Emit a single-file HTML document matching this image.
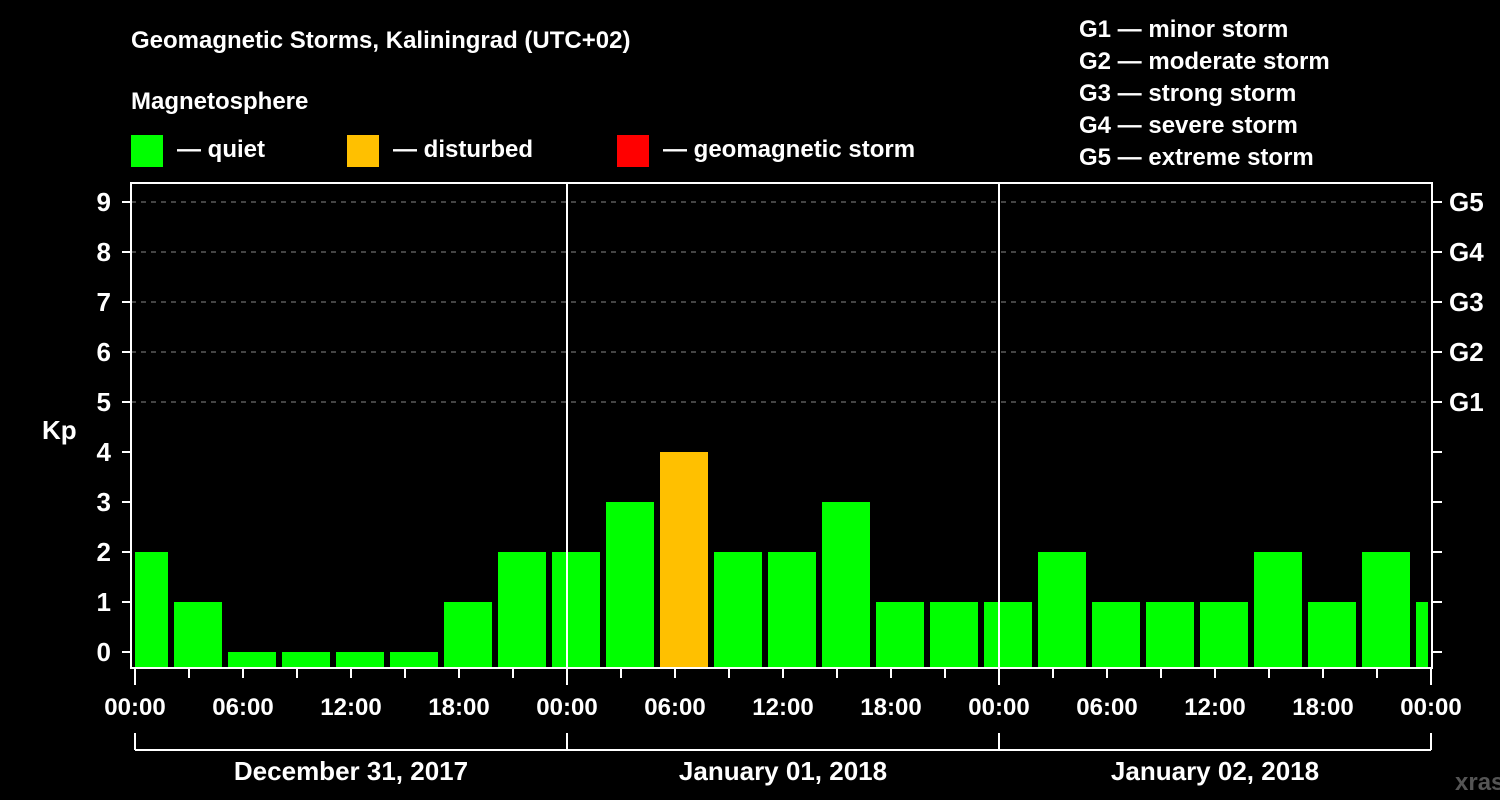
<!DOCTYPE html>
<html><head><meta charset="utf-8"><style>
html,body{margin:0;padding:0;background:#000;}
svg{display:block;font-family:"Liberation Sans",Arial,sans-serif;font-weight:bold;}
</style></head><body>
<svg id="c" width="1500" height="800" viewBox="0 0 1500 800">
<text x="131" y="48" fill="#fff" font-size="24">Geomagnetic Storms, Kaliningrad (UTC+02)</text>
<text x="131" y="109" fill="#fff" font-size="24">Magnetosphere</text>
<g><rect x="131" y="135" width="32" height="32" fill="#00ff00"/><text x="177" y="157" fill="#fff" font-size="24">— quiet</text></g>
<g><rect x="347" y="135" width="32" height="32" fill="#ffc000"/><text x="393" y="157" fill="#fff" font-size="24">— disturbed</text></g>
<g><rect x="617" y="135" width="32" height="32" fill="#ff0000"/><text x="663" y="157" fill="#fff" font-size="24">— geomagnetic storm</text></g>
<g fill="#fff" font-size="24">
<text x="1079" y="37">G1 — minor storm</text><text x="1079" y="69">G2 — moderate storm</text><text x="1079" y="101">G3 — strong storm</text><text x="1079" y="133">G4 — severe storm</text><text x="1079" y="165">G5 — extreme storm</text></g>
<text x="42" y="439" fill="#fff" font-size="26">Kp</text>
<text x="1455" y="790" fill="#555" font-size="24">xras.ru</text>
<defs><clipPath id="pc"><rect x="135" y="183" width="1293" height="486"/></clipPath></defs>
<g id="grid"></g><g id="bars" clip-path="url(#pc)"></g><g id="axes"></g>
</svg>
<script>
const kpValues=[2,1,0,0,0,0,1,2,2,3,4,2,2,3,1,1,1,2,1,1,1,2,1,2,1];
const timeLabels=["00:00","06:00","12:00","18:00","00:00","06:00","12:00","18:00","00:00","06:00","12:00","18:00","00:00"];
const dayLabels=["December 31, 2017","January 01, 2018","January 02, 2018"];
const yTicks=[0,1,2,3,4,5,6,7,8,9];
const gLabels=["G1","G2","G3","G4","G5"];
const NS="http://www.w3.org/2000/svg";
const x=h=>135+h*18; // hours -> px
const y=v=>652-50*v;
function mk(t,a,p){const e=document.createElementNS(NS,t);for(const k in a)e.setAttribute(k,a[k]);p.appendChild(e);return e;}
const grid=document.getElementById('grid'),bars=document.getElementById('bars'),axes=document.getElementById('axes');
yTicks.forEach(v=>{
 if(v>=5){const l=mk('line',{x1:131,x2:1432,y1:y(v),y2:y(v),stroke:'#888','stroke-dasharray':'5,5','stroke-width':1},grid);
 
 }
 mk('line',{x1:122,x2:131,y1:y(v),y2:y(v),stroke:'#fff','stroke-width':2},axes);
 mk('line',{x1:1432,x2:1442,y1:y(v),y2:y(v),stroke:'#fff','stroke-width':2},axes);
 const t=mk('text',{x:111,y:y(v)+9,fill:'#fff','font-size':26,'text-anchor':'end'},axes);t.textContent=v;
 
 
});
gLabels.forEach((g,i)=>{const t=mk('text',{x:1449,y:y(5+i)+9,fill:'#fff','font-size':26},axes);t.textContent=g;
 
 });
kpValues.forEach((v,k)=>{
 const c=x(3*k)+9;const col=v>=5?'#ff0000':(v>=4?'#ffc000':'#00ff00');
 const b=mk('rect',{x:c-24,y:y(v),width:48,height:668-y(v),fill:col},bars);
 
 
});
// day separators
[1,2].forEach(d=>{const l=mk('line',{x1:x(24*d),x2:x(24*d),y1:183,y2:668,stroke:'#fff','stroke-width':2},axes);
 
 });
mk('rect',{x:131,y:183,width:1301,height:485,fill:'none',stroke:'#fff','stroke-width':2},axes);
for(let h=0;h<=72;h+=3){const big=h%24==0;mk('line',{x1:x(h),x2:x(h),y1:668,y2:big?685:678,stroke:'#fff','stroke-width':2},axes);}
timeLabels.forEach((s,i)=>{const t=mk('text',{x:x(6*i),y:715,fill:'#fff','font-size':24,'text-anchor':'middle'},axes);t.textContent=s;
 
 });
mk('line',{x1:x(0),x2:x(72),y1:750,y2:750,stroke:'#fff','stroke-width':2},axes);
for(let d=0;d<=3;d++)mk('line',{x1:x(24*d),x2:x(24*d),y1:733,y2:750,stroke:'#fff','stroke-width':2},axes);
dayLabels.forEach((s,i)=>{const t=mk('text',{x:x(24*i+12),y:780,fill:'#fff','font-size':26,'text-anchor':'middle'},axes);t.textContent=s;
 
 });
</script>
</body></html>
